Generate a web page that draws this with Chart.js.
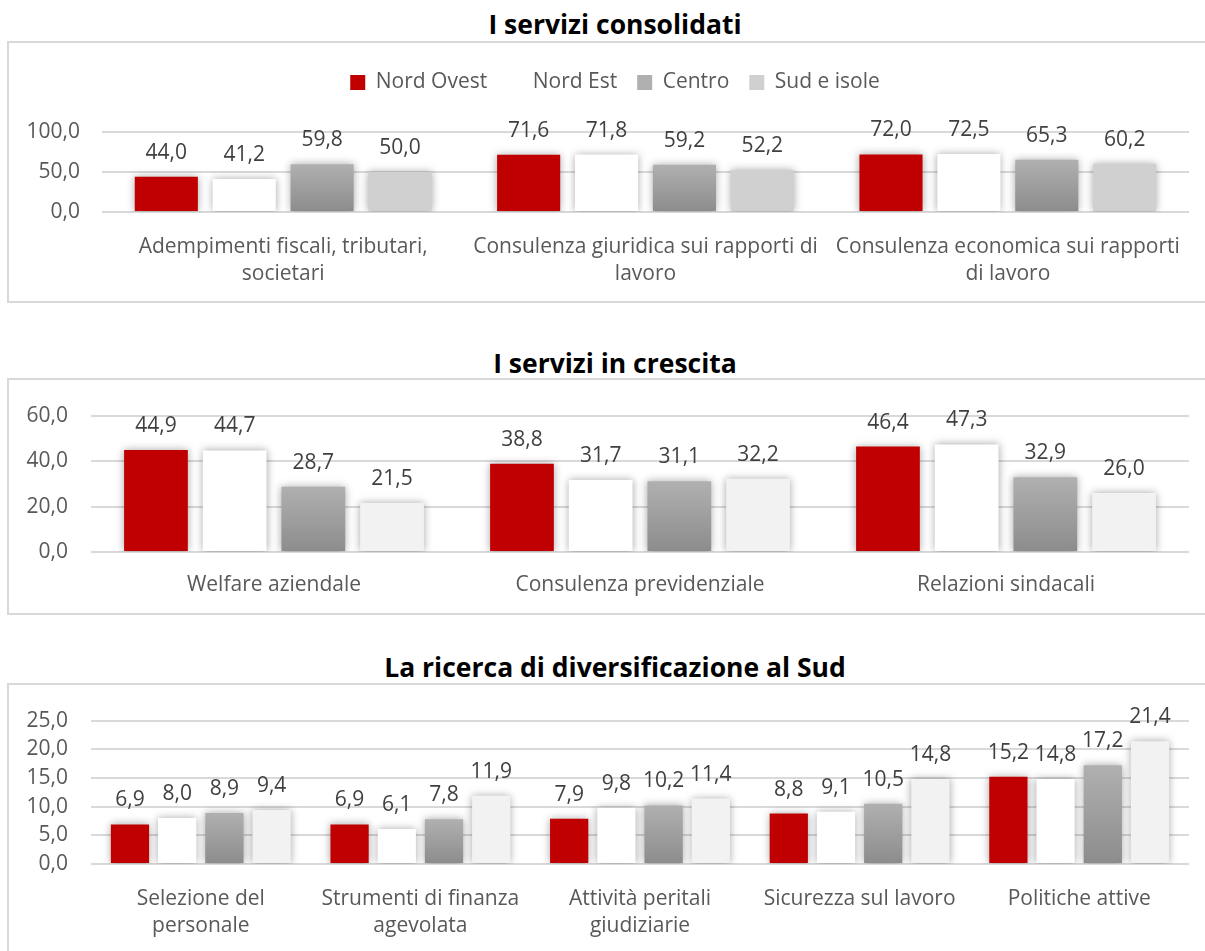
<!DOCTYPE html>
<html lang="it">
<head>
<meta charset="utf-8">
<title>Servizi per area geografica</title>
<script src="https://cdn.jsdelivr.net/npm/chart.js@4.4.1/dist/chart.umd.min.js"></script>
<style>
  html, body { margin: 0; padding: 0; background: #fff; }
  body { width: 1205px; height: 951px; position: relative; overflow: hidden; font-family: 'Open Sans', Lato, sans-serif; }
  .title { position: absolute; left: 0; width: 1230px; text-align: center; font-weight: 700; font-size: 26.5px; line-height: 30px; color: #000; }
  .box { position: absolute; left: 7px; width: 1210px; border: 2px solid #d9d9d9; box-sizing: border-box; }
  .box canvas { position: absolute; left: 0; top: 0; }
</style>
</head>
<body>

<div class="title" style="top:9px">I servizi consolidati</div>
<div class="box" style="top:41px; height:262px"><canvas id="consolidati" width="1196" height="258"></canvas></div>

<div class="title" style="top:348px">I servizi in crescita</div>
<div class="box" style="top:378px; height:237px"><canvas id="crescita" width="1196" height="233"></canvas></div>

<div class="title" style="top:652px">La ricerca di diversificazione al Sud</div>
<div class="box" style="top:683px; height:290px"><canvas id="diversificazione" width="1196" height="266"></canvas></div>

<script>
const REGIONS = ['Nord Ovest', 'Nord Est', 'Centro', 'Sud e isole'];

// I servizi consolidati
const consolidatiCats = [
  ['Adempimenti fiscali, tributari,', 'societari'],
  ['Consulenza giuridica sui rapporti di', 'lavoro'],
  ['Consulenza economica sui rapporti', 'di lavoro'],
];
const consolidatiNordOvest = [44.0, 71.6, 72.0];
const consolidatiNordEst   = [41.2, 71.8, 72.5];
const consolidatiCentro    = [59.8, 59.2, 65.3];
const consolidatiSud       = [50.0, 52.2, 60.2];

// I servizi in crescita
const crescitaCats = ['Welfare aziendale', 'Consulenza previdenziale', 'Relazioni sindacali'];
const crescitaNordOvest = [44.9, 38.8, 46.4];
const crescitaNordEst   = [44.7, 31.7, 47.3];
const crescitaCentro    = [28.7, 31.1, 32.9];
const crescitaSud       = [21.5, 32.2, 26.0];

// La ricerca di diversificazione al Sud
const diversCats = [
  ['Selezione del', 'personale'],
  ['Strumenti di finanza', 'agevolata'],
  ['Attività peritali', 'giudiziarie'],
  'Sicurezza sul lavoro',
  'Politiche attive',
];
const diversNordOvest = [6.9, 6.9, 7.9, 8.8, 15.2];
const diversNordEst   = [8.0, 6.1, 9.8, 9.1, 14.8];
const diversCentro    = [8.9, 7.8, 10.2, 10.5, 17.2];
const diversSud       = [9.4, 11.9, 11.4, 14.8, 21.4];

const RED   = '#c00000';
const WHITE = '#ffffff';
const GRID  = '#d9d9d9';
const TEXT  = '#595959';
const FONT  = "'Open Sans', Lato, sans-serif";
const FS    = 21;

Chart.defaults.font.family = FONT;
Chart.defaults.font.size = FS;
Chart.defaults.color = TEXT;

const fmt = (v) => Number(v).toFixed(1).replace('.', ',');

// Centro bars fade from light to mid grey, bar by bar
function centroFill(ctx) {
  const chart = ctx.chart;
  if (ctx.type !== 'data' || !chart.chartArea) return '#9e9e9e';
  const y = chart.scales.y;
  const top = y.getPixelForValue(ctx.raw);
  const bottom = y.getPixelForValue(0);
  const g = chart.ctx.createLinearGradient(0, top, 0, bottom);
  g.addColorStop(0, '#b0b0b0');
  g.addColorStop(1, '#8c8c8c');
  return g;
}

// soft grey halo round every bar
const barGlow = {
  id: 'barGlow',
  beforeDatasetDraw(chart) {
    const c = chart.ctx;
    c.save();
    c.shadowColor = 'rgba(0,0,0,0.35)';
    c.shadowBlur = 8;
  },
  afterDatasetDraw(chart) { chart.ctx.restore(); },
};

// value above each bar
const valueLabels = {
  id: 'valueLabels',
  afterDatasetsDraw(chart) {
    const c = chart.ctx;
    c.save();
    c.font = FS + 'px ' + FONT;
    c.fillStyle = '#404040';
    c.textAlign = 'center';
    c.textBaseline = 'middle';
    chart.data.datasets.forEach((ds, i) => {
      chart.getDatasetMeta(i).data.forEach((bar, j) => {
        c.fillText(fmt(ds.data[j]), bar.x, bar.y - 24);
      });
    });
    c.restore();
  },
};

// extra room under the legend, and a small sideways nudge
const legendGap = {
  id: 'legendGap',
  afterInit(chart, _args, opts) {
    const legend = chart.legend;
    if (!legend || legend._gapPatched) return;
    const fit = legend.fit;
    legend.fit = function () {
      fit.call(this);
      this.height += opts.extra || 0;
    };
    legend._gapPatched = true;
  },
  afterLayout(chart, _args, opts) {
    const legend = chart.legend;
    if (!legend || !opts.shift) return;
    legend.left += opts.shift;
    legend.right += opts.shift;
  },
};

function makeChart(id, cats, series, cfg) {
  const datasets = series.map((data, i) => ({
    label: REGIONS[i],
    data,
    backgroundColor: [RED, WHITE, centroFill, cfg.sudColor][i],
    borderWidth: 0,
    categoryPercentage: 0.86,
    barPercentage: 0.81,
  }));

  return new Chart(document.getElementById(id), {
    type: 'bar',
    data: { labels: cats, datasets },
    plugins: [barGlow, valueLabels, legendGap],
    options: {
      responsive: false,
      animation: false,
      layout: { padding: { left: 0, right: 16, top: cfg.top, bottom: 0 } },
      plugins: {
        tooltip: { enabled: false },
        legendGap: { extra: cfg.legendExtra || 0, shift: cfg.legendShift || 0 },
        legend: {
          display: !!cfg.legend,
          position: 'top',
          align: 'center',
          labels: {
            boxWidth: 15,
            boxHeight: 15,
            padding: 20,
            color: TEXT,
            font: { size: FS },
          },
        },
      },
      scales: {
        x: {
          grid: { display: false, drawTicks: false },
          border: { display: false },
          ticks: {
            color: TEXT,
            padding: cfg.xPad,
            maxRotation: 0,
            autoSkip: false,
            font: { size: FS, lineHeight: 1.3 },
          },
          afterFit: (s) => { s.height = cfg.xHeight; },
        },
        y: {
          min: 0,
          max: cfg.max,
          grid: { color: GRID, lineWidth: 2, drawTicks: false },
          border: { display: false },
          ticks: {
            stepSize: cfg.step,
            padding: cfg.yPad,
            color: TEXT,
            font: { size: FS },
            callback: (v) => fmt(v),
          },
          afterFit: (s) => { s.width = cfg.yWidth; },
        },
      },
    },
  });
}

makeChart('consolidati', consolidatiCats,
  [consolidatiNordOvest, consolidatiNordEst, consolidatiCentro, consolidatiSud],
  { sudColor: '#d0d0d0', max: 100, step: 50, legend: true, legendExtra: 29, legendShift: 16,
    top: 9, yWidth: 93, yPad: 22, xHeight: 89, xPad: 21 });

makeChart('crescita', crescitaCats,
  [crescitaNordOvest, crescitaNordEst, crescitaCentro, crescitaSud],
  { sudColor: '#f2f2f2', max: 60, step: 20,
    top: 28, yWidth: 82, yPad: 23, xHeight: 61, xPad: 19 });

makeChart('diversificazione', diversCats,
  [diversNordOvest, diversNordEst, diversCentro, diversSud],
  { sudColor: '#f2f2f2', max: 25, step: 5,
    top: 28, yWidth: 82, yPad: 23, xHeight: 87, xPad: 21 });
</script>
</body>
</html>
